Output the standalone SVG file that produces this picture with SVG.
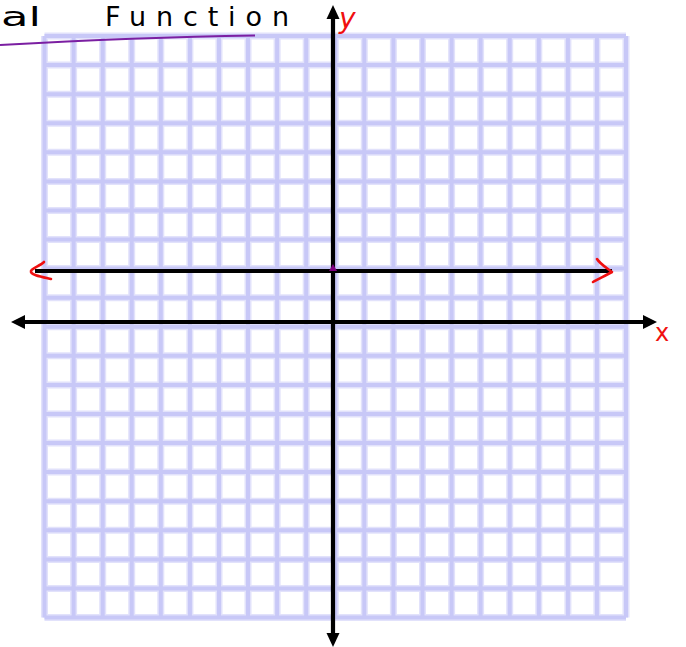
<svg xmlns="http://www.w3.org/2000/svg" width="686" height="647" viewBox="0 0 686 647">
<style>
.halo{fill:none;stroke:#e2e2fb;stroke-width:7}
.grid{fill:none;stroke:#c8c8f7;stroke-width:4}
.axis{fill:none;stroke:#000;stroke-width:4.2}
.head{fill:#000}
.red{fill:none;stroke:#f01010;stroke-width:2.6;stroke-linecap:round;stroke-linejoin:round}
.hand{font-family:"DejaVu Sans",sans-serif;fill:#000}
</style>
<rect width="686" height="647" fill="#fff"/>
<g id="grid">
<path class="halo" d="M44.5,36V617.5M73.6,36V617.5M102.7,36V617.5M131.7,36V617.5M160.8,36V617.5M189.9,36V617.5M219,36V617.5M248,36V617.5M277.1,36V617.5M306.2,36V617.5M335.3,36V617.5M364.3,36V617.5M393.4,36V617.5M422.5,36V617.5M451.6,36V617.5M480.6,36V617.5M509.7,36V617.5M538.8,36V617.5M567.9,36V617.5M596.9,36V617.5M626,36V617.5M44.5,36H626M44.5,65.1H626M44.5,94.2H626M44.5,123.2H626M44.5,152.3H626M44.5,181.4H626M44.5,210.5H626M44.5,239.5H626M44.5,268.6H626M44.5,297.7H626M44.5,326.8H626M44.5,355.8H626M44.5,384.9H626M44.5,414H626M44.5,443.1H626M44.5,472.1H626M44.5,501.2H626M44.5,530.3H626M44.5,559.4H626M44.5,588.4H626M44.5,617.5H626"/>
<path class="grid" d="M44.5,36V617.5M73.6,36V617.5M102.7,36V617.5M131.7,36V617.5M160.8,36V617.5M189.9,36V617.5M219,36V617.5M248,36V617.5M277.1,36V617.5M306.2,36V617.5M335.3,36V617.5M364.3,36V617.5M393.4,36V617.5M422.5,36V617.5M451.6,36V617.5M480.6,36V617.5M509.7,36V617.5M538.8,36V617.5M567.9,36V617.5M596.9,36V617.5M626,36V617.5M44.5,36H626M44.5,65.1H626M44.5,94.2H626M44.5,123.2H626M44.5,152.3H626M44.5,181.4H626M44.5,210.5H626M44.5,239.5H626M44.5,268.6H626M44.5,297.7H626M44.5,326.8H626M44.5,355.8H626M44.5,384.9H626M44.5,414H626M44.5,443.1H626M44.5,472.1H626M44.5,501.2H626M44.5,530.3H626M44.5,559.4H626M44.5,588.4H626M44.5,617.5H626"/>
</g>
<g id="title">
<text class="hand" x="1" y="26" font-size="27" textLength="40" lengthAdjust="spacingAndGlyphs">al</text>
<text class="hand" x="105" y="26" font-size="27" textLength="184" lengthAdjust="spacing">Function</text>
<path d="M0,45 C70,41 150,37 255,35.5" fill="none" stroke="#7b1fa2" stroke-width="2"/>
</g>
<g id="connectors">
<g id="y-axis">
<line class="axis" x1="333" y1="16" x2="333" y2="636"/>
<polygon class="head" points="333,5 326.5,19 339.5,19"/>
<polygon class="head" points="333,647 326.5,633 339.5,633"/>
</g>
<g id="x-axis">
<line class="axis" x1="20" y1="322" x2="647" y2="322"/>
<polygon class="head" points="11,322 25,315 25,329"/>
<polygon class="head" points="657,322 643,315 643,329"/>
</g>
<g id="horizontal-line">
<line class="axis" x1="35" y1="271" x2="612" y2="271"/>
<path class="red" d="M44,262 C40,266 32,268 31,271 C30,275 42,277 51,279"/>
<path class="red" d="M597,259 C600,264 607,268 612,272 C605,276 598,279 593,282"/>
<path d="M329,271 L333,264 L337,271 Z" fill="#800080"/>
</g>
</g>
<g id="labels">
<text x="339" y="28" font-family="DejaVu Sans, sans-serif" font-size="28" font-style="italic" fill="#f01010">y</text>
<text x="655" y="341" font-family="DejaVu Sans, sans-serif" font-size="24" fill="#f01010">x</text>
</g>
</svg>
